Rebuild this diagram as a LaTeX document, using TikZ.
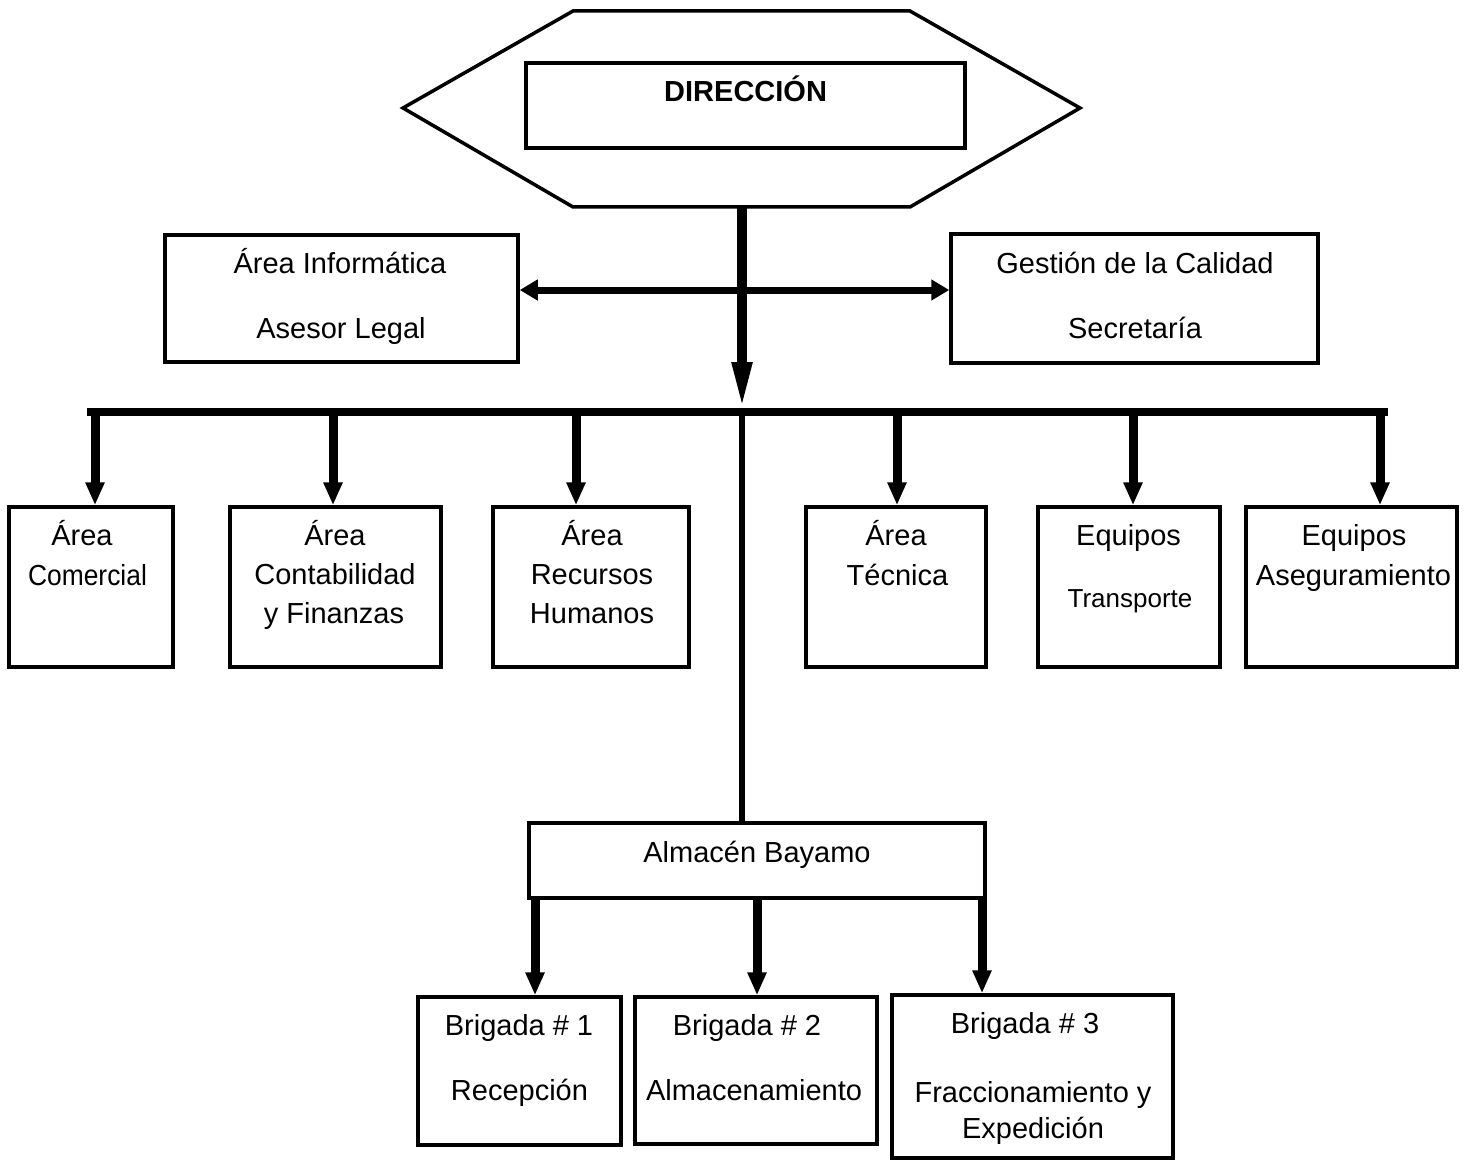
\documentclass[tikz,border=0pt]{standalone}
\usepackage{fontspec}
\setmainfont{Liberation Sans}
\usetikzlibrary{arrows.meta,fit}
\begin{document}
\begin{tikzpicture}[x=1pt,y=-1pt,
  box/.style={draw, line width=3.5pt, rectangle, inner sep=0pt},
  txt/.style={anchor=base, inner sep=0pt, font=\fontsize{29pt}{34pt}\selectfont},
  txtsm/.style={anchor=base, inner sep=0pt, font=\fontsize{26pt}{31pt}\selectfont},
  subarr/.style={line width=9pt, -{Triangle[length=23pt,width=18pt]}},
  mainarr/.style={line width=10pt, -{Triangle[length=50pt,width=18pt]}},
  dblarr/.style={line width=7pt, {Triangle[length=18pt,width=20pt]}-{Triangle[length=18pt,width=20pt]}},
  busline/.style={line width=8pt},
  hexline/.style={line width=3.5pt, line join=miter}
]
\useasboundingbox (0,0) rectangle (1472,1161);

% hexagon
\draw[hexline] (573,11) -- (910,11) -- (1080,108) -- (910,207) -- (573,207) -- (403,108) -- cycle;
\coordinate (hexbot) at (742,207);

% boxes
\node[box, fit={(526,63) (965,148)}] (dir) {};
\node[box, fit={(165,235) (518,362)}] (inf) {};
\node[box, fit={(951,234) (1318,363)}] (cal) {};
\node[box, fit={(9,507) (173,667)}] (b1) {};
\node[box, fit={(230,507) (441,667)}] (b2) {};
\node[box, fit={(493,507) (689,667)}] (b3) {};
\node[box, fit={(806,507) (986,667)}] (b4) {};
\node[box, fit={(1038,507) (1220,667)}] (b5) {};
\node[box, fit={(1246,507) (1457,667)}] (b6) {};
\node[box, fit={(529,823) (985,898)}] (alm) {};
\node[box, fit={(418,997) (621,1145)}] (g1) {};
\node[box, fit={(635,997) (877,1144)}] (g2) {};
\node[box, fit={(892,995) (1173,1158)}] (g3) {};

% coordinates
\coordinate (busL) at (87,412);
\coordinate (busR) at (1388,412);
\coordinate (busC) at (742,412);
\coordinate (mid) at (742,290);
\coordinate (t1) at (95,412);
\coordinate (t2) at (333,412);
\coordinate (t3) at (576,412);
\coordinate (t4) at (897,412);
\coordinate (t5) at (1133,412);
\coordinate (t6) at (1380,412);
\coordinate (s1) at (535,898);
\coordinate (s2) at (757,898);
\coordinate (s3) at (982,898);

% connectors
\draw[busline] (busL) -- (busR);
\draw[mainarr] (hexbot) -- (busC);
\draw[dblarr] (mid -| inf.east) -- (mid -| cal.west);
\draw[line width=6pt] (busC) -- (busC |- alm.north);
\draw[subarr] (t1) -- (t1 |- b1.north);
\draw[subarr] (t2) -- (t2 |- b2.north);
\draw[subarr] (t3) -- (t3 |- b3.north);
\draw[subarr] (t4) -- (t4 |- b4.north);
\draw[subarr] (t5) -- (t5 |- b5.north);
\draw[subarr] (t6) -- (t6 |- b6.north);
\draw[subarr] (s1) -- (s1 |- g1.north);
\draw[subarr] (s2) -- (s2 |- g2.north);
\draw[subarr] (s3) -- (s3 |- g3.north);

% texts
\node[txt, font=\fontsize{29pt}{34pt}\selectfont\bfseries] (dirt) at (745.6,101.7) {DIRECCIÓN};
\node[txt] (inf1) at (340,273) {Área Informática};
\node[txt] (inf2) at (341,338) {Asesor Legal};
\node[txt] (cal1) at (1135,273) {Gestión de la Calidad};
\node[txt] (cal2) at (1135,338) {Secretaría};
\node[txt] (b1a) at (82,545) {Área};
\node[txt] (b1b) at (87.5,585) {\scalebox{0.91}[1]{Comercial}};
\node[txt] (b2a) at (335,545) {Área};
\node[txt] (b2b) at (335,584) {Contabilidad};
\node[txt] (b2c) at (334,623) {y Finanzas};
\node[txt] (b3a) at (592,545) {Área};
\node[txt] (b3b) at (592,584) {Recursos};
\node[txt] (b3c) at (592,623) {Humanos};
\node[txt] (b4a) at (896,545) {Área};
\node[txt] (b4b) at (897.5,585) {Técnica};
\node[txt] (b5a) at (1128.6,545) {Equipos};
\node[txtsm] (b5b) at (1130,607) {Transporte};
\node[txt] (b6a) at (1354,545) {Equipos};
\node[txt] (b6b) at (1353.5,585) {Aseguramiento};
\node[txt] (almt) at (757,862) {Almacén Bayamo};
\node[txt] (g1a) at (519,1035) {Brigada \# 1};
\node[txt] (g1b) at (519.5,1100) {Recepción};
\node[txt] (g2a) at (747,1035) {Brigada \# 2};
\node[txt] (g2b) at (754,1100) {Almacenamiento};
\node[txt] (g3a) at (1025,1033) {Brigada \# 3};
\node[txt] (g3b) at (1033,1102) {Fraccionamiento y};
\node[txt] (g3c) at (1033,1138) {Expedición};
\end{tikzpicture}
\end{document}
